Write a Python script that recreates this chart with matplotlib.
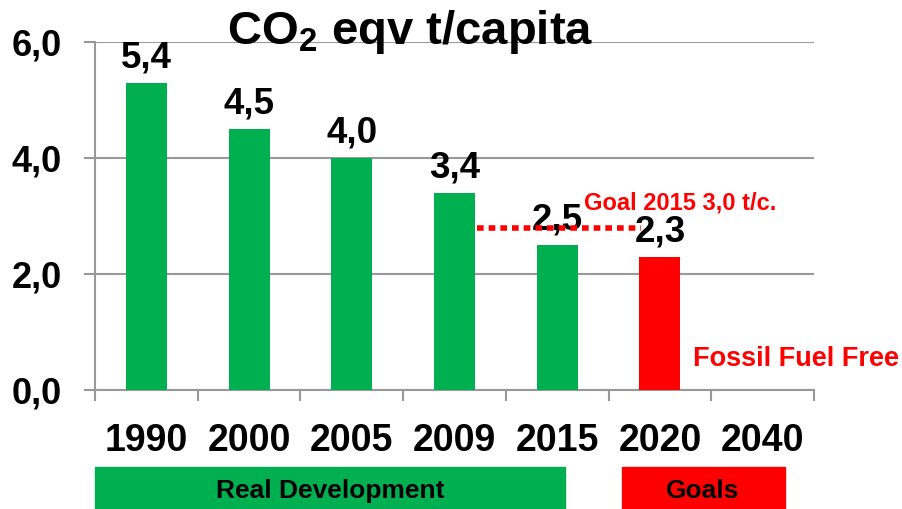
import matplotlib
matplotlib.use('Agg')
import matplotlib.pyplot as plt
from matplotlib.patches import Rectangle

# data
years = ['1990', '2000', '2005', '2009', '2015', '2020', '2040']
co2 = [5.3, 4.5, 4.0, 3.4, 2.5, 2.3, None]
value_labels = ['5,4', '4,5', '4,0', '3,4', '2,5', '2,3', '']
bar_colors = ['#00B050'] * 5 + ['#FF0000', '#FF0000']
goal_2015 = 2.79
yticks = [0.0, 2.0, 4.0, 6.0]
ytick_labels = ['0,0', '2,0', '4,0', '6,0']

plt.rcParams['font.family'] = ['Liberation Sans', 'DejaVu Sans']
plt.rcParams['font.weight'] = 'bold'
plt.rcParams['mathtext.fontset'] = 'custom'
plt.rcParams['mathtext.rm'] = 'Liberation Sans:bold'
plt.rcParams['mathtext.bf'] = 'Liberation Sans:bold'

fig = plt.figure(figsize=(9.02, 5.09), dpi=100)
ax = fig.add_axes([95 / 902, 119 / 509, 719 / 902, 348 / 509])

xs = list(range(len(years)))
for x, v, c, lab in zip(xs, co2, bar_colors, value_labels):
    if v is None:
        continue
    ax.bar(x, v, width=0.4, color=c, zorder=3)
    ax.text(x, v + 0.13, lab, ha='center', va='bottom', fontsize=26.5,
            fontweight='bold', zorder=4)

# goal line
ax.plot([3.22, 4.82], [goal_2015, goal_2015], color='#FF0000', lw=4,
        linestyle=(0, (1.2, 0.9)), zorder=5)
ax.text(4.26, 3.02, 'Goal 2015 3,0 t/c.', color='#FF0000', fontsize=17,
        fontweight='bold', ha='left', va='bottom')
ax.text(5.32, 0.31, 'Fossil Fuel Free', color='#FF0000', fontsize=19.5,
        fontweight='bold', ha='left', va='bottom', clip_on=False)

ax.set_xlim(-0.5, len(years) - 0.5)
ax.set_ylim(0, 6)
ax.set_yticks(yticks)
ax.set_yticklabels(ytick_labels, fontsize=26, fontweight='bold')
ax.set_xticks(xs)
ax.set_xticklabels(years, fontsize=27, fontweight='bold')
ax.set_xticks([i - 0.5 for i in range(len(years) + 1)], minor=True)
ax.tick_params(axis='x', which='major', length=0, pad=24)
ax.tick_params(axis='x', which='minor', length=8, width=1.5, color='#999999')
ax.tick_params(axis='y', length=8, width=1.5, color='#999999', pad=16)
ax.grid(axis='y', color='#999999', lw=1.5, zorder=0)
for s in ['top', 'right']:
    ax.spines[s].set_visible(False)
for s in ['left', 'bottom']:
    ax.spines[s].set_color('#999999')
    ax.spines[s].set_linewidth(1.5)

# title
fig.text(410 / 902, (509 - 44) / 509, r'CO$_\mathbf{2}$ eqv t/capita',
         ha='center', va='baseline', fontsize=34, fontweight='bold')

# category boxes under the axis
fig.patches.append(Rectangle((95 / 902, 0), 470 / 902, 42 / 509,
                             transform=fig.transFigure, color='#00B050'))
fig.patches.append(Rectangle((622 / 902, 0), 163 / 902, 42 / 509,
                             transform=fig.transFigure, color='#FF0000'))
fig.text(330 / 902, 18 / 509, 'Real Development', ha='center', va='center',
         fontsize=19, fontweight='bold')
fig.text(703 / 902, 18 / 509, 'Goals', ha='center', va='center',
         fontsize=19, fontweight='bold')

fig.savefig('out.png', dpi=100)
